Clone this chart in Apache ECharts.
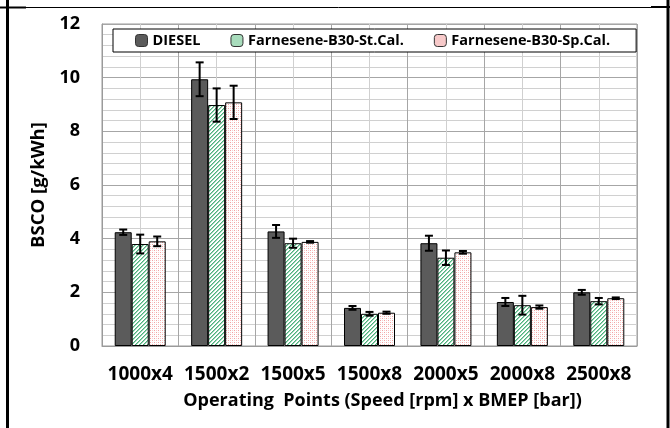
<!DOCTYPE html>
<html><head><meta charset="utf-8">
<script src="https://cdn.jsdelivr.net/npm/echarts@6/dist/echarts.min.js"></script>
<style>html,body{margin:0;padding:0;background:#fff}#c{width:670px;height:428px}</style>
</head><body><div id="c"></div>
<script>
const categories = ['1000x4','1500x2','1500x5','1500x8','2000x5','2000x8','2500x8'];
const seriesNames = ['DIESEL','Farnesene-B30-St.Cal.','Farnesene-B30-Sp.Cal.'];
const diesel = [4.24, 9.94, 4.27, 1.42, 3.83, 1.64, 2.00];
const stCal  = [3.80, 8.98, 3.83, 1.20, 3.29, 1.52, 1.67];
const spCal  = [3.90, 9.08, 3.88, 1.24, 3.49, 1.45, 1.78];
const dieselErr = [0.10, 0.63, 0.24, 0.07, 0.28, 0.15, 0.09];
const stCalErr  = [0.35, 0.62, 0.17, 0.07, 0.27, 0.35, 0.12];
const spCalErr  = [0.18, 0.62, 0.03, 0.04, 0.05, 0.06, 0.03];
const yTicks = [0, 2, 4, 6, 8, 10, 12];

function makePattern(kind){
  const c = document.createElement('canvas');
  c.width = 4; c.height = 4;
  const g = c.getContext('2d');
  g.fillStyle = '#ffffff'; g.fillRect(0,0,4,4);
  if (kind === 'green'){
    g.fillStyle = '#4fb07e';
    for (let i=0;i<4;i++){ g.fillRect(i,(3-i+4)%4,1,1); }
    g.fillStyle = '#98d6b4';
    for (let i=0;i<4;i++){ g.fillRect(i,(4-i+4)%4,1,1); }
  } else {
    g.fillStyle = '#f2a3a3';
    g.fillRect(0,0,1,1); g.fillRect(2,2,1,1);
    g.fillStyle = '#f8d0d0';
    g.fillRect(2,0,1,1); g.fillRect(0,2,1,1);
  }
  return {image: c, repeat: 'repeat'};
}
const fills = ['#5b5b5b', makePattern('green'), makePattern('pink')];
const legendIcons = ['#5b5b5b', '#a8dcbc', '#f7c9c9'];
const values = [diesel, stCal, spCal];
const errs = [dieselErr, stCalErr, spCalErr];
const BW = 17;
const font = 'Open Sans';

const chart = echarts.init(document.getElementById('c'), null, {renderer:'canvas'});
const series = [];
values.forEach((v, si) => {
  series.push({
    name: seriesNames[si], type: 'bar', data: v, barWidth: BW, barGap: '0%',
    xAxisIndex: 0,
    itemStyle: {color: fills[si], borderColor: '#000', borderWidth: 1},
    z: 3
  });
});
values.forEach((v, si) => {
  series.push({
    type: 'custom', xAxisIndex: 0, z: 5, silent: true,
    data: v.map((val, i) => [i, val, errs[si][i]]),
    renderItem: function(params, api){
      const i = api.value(0), val = api.value(1), e = api.value(2);
      const top = api.coord([i, val + e]);
      const bot = api.coord([i, val - e]);
      const x = top[0] + (si - 1) * BW;
      const s = {stroke: '#000', lineWidth: 2};
      return {type: 'group', children: [
        {type:'line', shape:{x1:x, y1:top[1], x2:x, y2:bot[1]}, style:s},
        {type:'line', shape:{x1:x-4, y1:top[1], x2:x+4, y2:top[1]}, style:s},
        {type:'line', shape:{x1:x-4, y1:bot[1], x2:x+4, y2:bot[1]}, style:s}
      ]};
    }
  });
});

chart.setOption({
  animation: false,
  backgroundColor: '#fff',
  textStyle: {fontFamily: font},
  grid: {left: 102, right: 33, top: 24, bottom: 82, show: true, borderColor: '#9a9a9a', borderWidth: 1},
  legend: {
    data: seriesNames.map((n, i) => ({name: n,
      itemStyle: {color: legendIcons[i], borderColor: '#333', borderWidth: 1}})),
    left: 113, top: 29, itemWidth: 12, itemHeight: 12, itemGap: 30,
    padding: [4, 26, 4, 22],
    backgroundColor: '#fff', borderColor: '#000', borderWidth: 1,
    textStyle: {fontFamily: font, fontWeight: 'bold', fontSize: 14.5, color: '#000'}
  },
  xAxis: [{
    type: 'category', data: categories,
    axisLine: {lineStyle: {color: '#9a9a9a'}}, axisTick: {show: false},
    splitLine: {show: false},
    axisLabel: {fontFamily: font, fontWeight: 'bold', fontSize: 19, color: '#000', margin: 19, interval: 0},
    name: 'Operating  Points (Speed [rpm] x BMEP [bar])', nameLocation: 'middle', nameGap: 46,
    nameTextStyle: {fontFamily: font, fontWeight: 'bold', fontSize: 18, color: '#000', padding: [0, 0, 0, 26]}
  }, {
    type: 'value', min: 0, max: 7, interval: 1, position: 'bottom',
    axisLine: {show: false}, axisTick: {show: false}, axisLabel: {show: false},
    splitLine: {show: true, lineStyle: {color: '#a6a6a6', width: 1}},
    minorTick: {show: false, splitNumber: 2},
    minorSplitLine: {show: true, lineStyle: {color: '#d0d0d0', width: 1}}
  }],
  yAxis: {
    type: 'value', min: 0, max: 12, interval: 2,
    axisLine: {show: true, lineStyle: {color: '#9a9a9a'}}, axisTick: {show: false},
    splitLine: {show: true, lineStyle: {color: '#a6a6a6'}},
    minorTick: {show: false, splitNumber: 5},
    minorSplitLine: {show: true, lineStyle: {color: '#d0d0d0'}},
    axisLabel: {fontFamily: font, fontWeight: 'bold', fontSize: 18, color: '#000', margin: 22,
      formatter: v => yTicks.includes(v) ? String(v) : ''},
    name: 'BSCO [g/kWh]', nameLocation: 'middle', nameGap: 49,
    nameTextStyle: {fontFamily: font, fontWeight: 'bold', fontSize: 18.5, color: '#000'}
  },
  graphic: [
    {type: 'line', shape: {x1: 7.5, y1: 0, x2: 7.5, y2: 428}, style: {stroke: '#000', lineWidth: 3}, silent: true},
    {type: 'line', shape: {x1: 668, y1: 0, x2: 668, y2: 428}, style: {stroke: '#000', lineWidth: 3}, silent: true},
    {type: 'line', shape: {x1: 0, y1: 7.5, x2: 26, y2: 7.5}, style: {stroke: '#000', lineWidth: 2}, silent: true},
    {type: 'line', shape: {x1: 26, y1: 7.5, x2: 651, y2: 7.5}, style: {stroke: '#000', lineWidth: 1}, silent: true},
    {type: 'line', shape: {x1: 651, y1: 7, x2: 670, y2: 7}, style: {stroke: '#000', lineWidth: 2}, silent: true}
  ],
  series: series
});
</script></body></html>
